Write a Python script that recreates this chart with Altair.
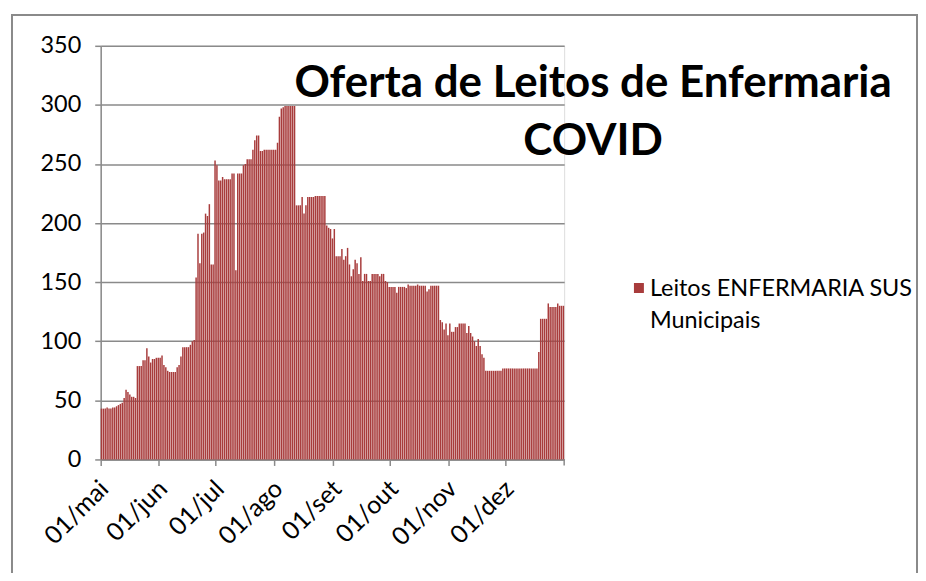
import altair as alt
import pandas as pd

# ---------------- data ----------------
meses = ["mai", "jun", "jul", "ago", "set", "out", "nov", "dez"]
dias_por_mes = [31, 30, 31, 31, 30, 31, 30, 31]

leitos_mai = [43, 43, 43, 44, 43, 43, 44, 44, 45, 46, 47, 48, 52, 59, 57, 55,
              53, 53, 52, 79, 79, 79, 84, 84, 94, 87, 82, 85, 85, 86, 86]
leitos_jun = [86, 88, 80, 78, 75, 74, 74, 74, 74, 78, 80, 87, 95, 95, 95, 95,
              97, 100, 101, 154, 191, 166, 191, 192, 208, 206, 216, 165, 165, 253]
leitos_jul = [249, 236, 236, 239, 237, 237, 237, 237, 242, 242, 160, 242, 242,
              242, 249, 250, 254, 254, 254, 262, 270, 274, 274, 261, 261, 262,
              262, 262, 262, 262, 262]
leitos_ago = [262, 268, 290, 297, 298, 299, 299, 299, 299, 299, 299, 215, 215,
              215, 222, 208, 215, 222, 222, 222, 222, 223, 223, 223, 223, 223,
              223, 198, 196, 195, 187]
leitos_set = [195, 172, 172, 172, 178, 169, 172, 179, 165, 155, 161, 169, 166,
              157, 171, 151, 157, 157, 151, 151, 157, 157, 157, 157, 155, 157,
              157, 151, 150, 146]
leitos_out = [146, 146, 146, 141, 146, 146, 146, 146, 145, 148, 147, 147, 147,
              147, 148, 147, 147, 147, 147, 142, 144, 147, 147, 147, 147, 147,
              118, 116, 110, 115, 105]
leitos_nov = [115, 108, 108, 112, 112, 115, 115, 115, 115, 107, 113, 107, 104,
              100, 96, 102, 96, 89, 86, 75, 75, 75, 75, 75, 75, 75, 75, 75, 77, 77]
leitos_dez = [77, 77, 77, 77, 77, 77, 77, 77, 77, 77, 77, 77, 77, 77, 77, 77,
              77, 91, 119, 119, 119, 119, 132, 129, 129, 129, 129, 132, 130, 130, 130]

serie = "Leitos ENFERMARIA SUS Municipais"
legenda_linhas = ["Leitos ENFERMARIA SUS", "Municipais"]
titulo_linhas = ["Oferta de Leitos de Enfermaria", "COVID"]
y_ticks = [0, 50, 100, 150, 200, 250, 300, 350]

# ---------------- table ----------------
dias = [f"{d:02d}/{m}" for m, n in zip(meses, dias_por_mes) for d in range(1, n + 1)]
valores = (leitos_mai + leitos_jun + leitos_jul + leitos_ago + leitos_set
           + leitos_out + leitos_nov + leitos_dez)
df = pd.DataFrame({"dia": dias, "leitos": valores, "serie": serie})
x_ticks = [f"01/{m}" for m in meses]

# ---------------- style ----------------
FONT = "Lato"
BAR = "#A83C3C"
GRID = "#8A8A8A"
W, H = 465, 415

bars = alt.Chart(df).mark_bar(color=BAR).encode(
    x=alt.X("dia:O", sort=dias,
            scale=alt.Scale(paddingInner=0.22, paddingOuter=0),
            axis=alt.Axis(values=x_ticks, title=None, labelAngle=-45,
                          labelAlign="right", labelBaseline="middle",
                          bandPosition=0, tickSize=6, tickWidth=1.5,
                          labelPadding=19, labelOffset=3,
                          domainColor=GRID, domainWidth=1.5,
                          tickColor=GRID, labelFontSize=25, labelFont=FONT,
                          labelColor="#000000", grid=False, labelOverlap=False)),
    y=alt.Y("leitos:Q", scale=alt.Scale(domain=[0, 350], nice=False),
            axis=alt.Axis(values=y_ticks, title=None, tickSize=6, tickWidth=1.5,
                          labelPadding=14, domainColor=GRID, domainWidth=1.5,
                          tickColor=GRID, gridColor=GRID, gridWidth=1.5,
                          labelFontSize=23.5, labelFont=FONT, labelColor="#000000")),
    tooltip=["dia:O", "leitos:Q", "serie:N"],
)

end_tick = alt.Chart(alt.Data(values=[{}])).mark_rule(color=GRID, strokeWidth=1.5).encode(
    x=alt.value(W), y=alt.value(H), y2=alt.value(H + 6))

titulo = alt.Chart(alt.Data(values=[{"t": "\n".join(titulo_linhas)}])).mark_text(
    font=FONT, fontSize=44, fontWeight="bold", align="center",
    baseline="alphabetic", lineBreak="\n", lineHeight=59, color="#000000"
).encode(x=alt.value(494), y=alt.value(51), text="t:N")

leg_sym = alt.Chart(alt.Data(values=[{"s": serie}])).mark_square(
    color=BAR, size=100, opacity=1).encode(x=alt.value(540), y=alt.value(243))

leg_txt = alt.Chart(alt.Data(values=[{"t": "\n".join(legenda_linhas)}])).mark_text(
    font=FONT, fontSize=23.5, align="left", baseline="alphabetic",
    lineBreak="\n", lineHeight=32, color="#000000"
).encode(x=alt.value(551), y=alt.value(251), text="t:N")

frame = alt.Chart(alt.Data(values=[{}])).mark_rect(
    filled=False, stroke=GRID, strokeWidth=2).encode(
    x=alt.value(-89), x2=alt.value(819), y=alt.value(-31), y2=alt.value(560))

chart = alt.layer(frame, bars, end_tick, titulo, leg_sym, leg_txt).properties(
    width=W, height=H,
    autosize=alt.AutoSizeParams(type="none"),
    padding={"left": 93, "top": 37, "right": 355, "bottom": 113},
).configure_view(stroke=None).configure(background="white")

chart.save("out.html", embed_options={"renderer": "svg", "actions": False})
